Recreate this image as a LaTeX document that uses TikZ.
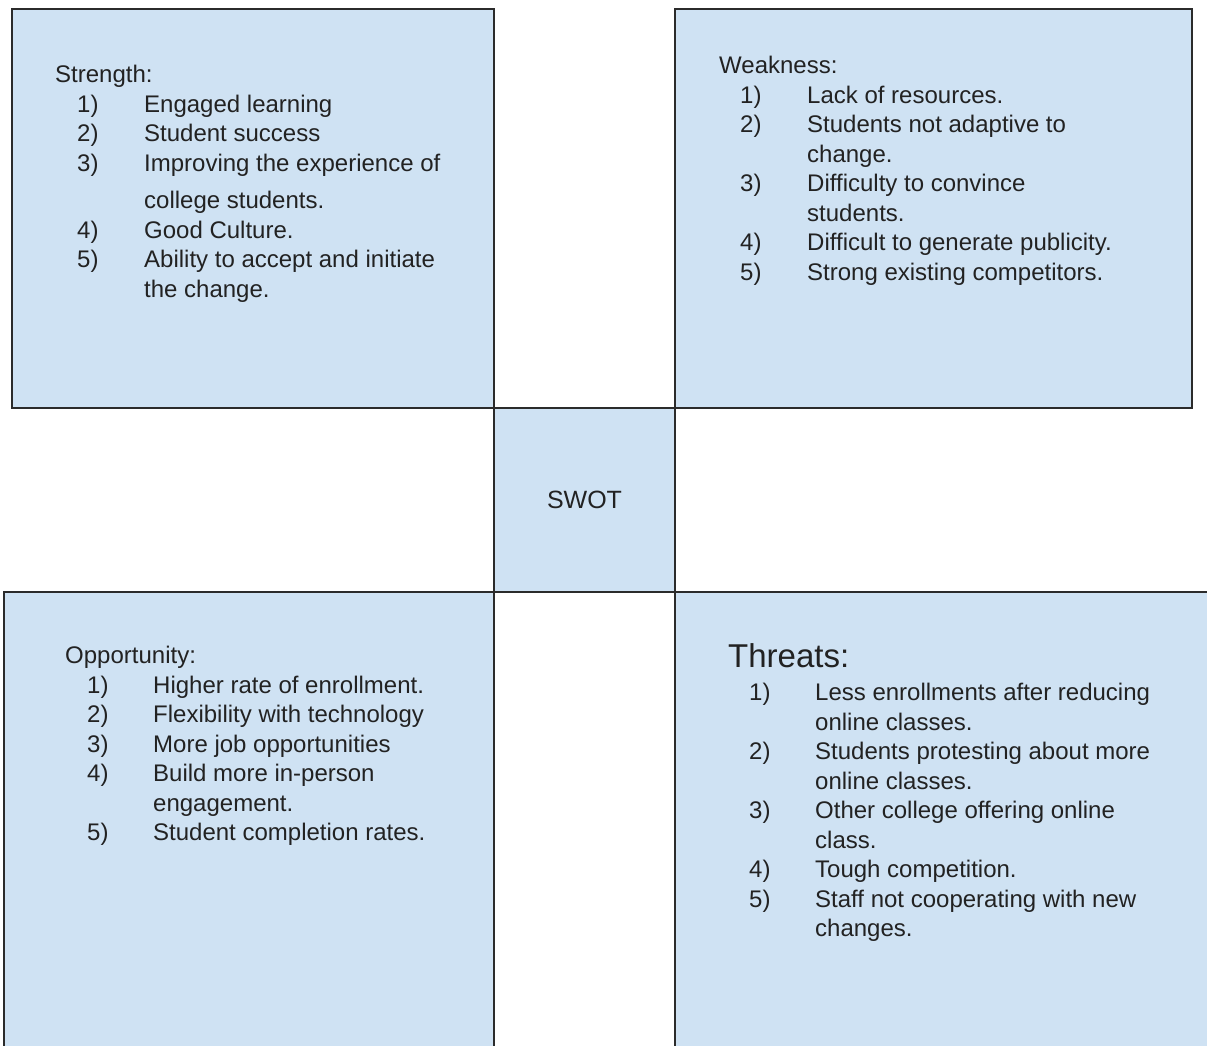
\documentclass[tikz,border=0pt]{standalone}
\usepackage{fontspec}
\setmainfont{Liberation Sans}
\usepackage{array}
\usetikzlibrary{positioning}
\definecolor{swotblue}{HTML}{CFE2F3}
\definecolor{swotline}{HTML}{2B2B2B}
\definecolor{swotink}{HTML}{222222}
\newcommand{\swotfont}{\fontsize{24}{29.5}\selectfont}
\newcommand{\swothead}{\fontsize{33}{38}\selectfont}
\tikzset{
    swotbox/.style={
        draw=swotline, line width=1.6pt, fill=swotblue,
        inner sep=0pt, outer sep=0pt},
    swotcore/.style={
        swotbox, minimum width=181pt, minimum height=184pt,
        font=\fontsize{25}{30}\selectfont, text=swotink},
    swottext/.style={
        inner sep=0pt, anchor=north west, align=left,
        font=\swotfont, text=swotink},
}

\begin{document}
\begin{tikzpicture}[x=1pt, y=1pt]

    \useasboundingbox (0,0) rectangle (1207,1045);
    \clip (0,0) rectangle (1207,1045);

    % --- Quadrants ---------------------------------------------------------------
    \node[swotbox, minimum width=181pt, minimum height=184pt] (mid) at (584.5,545) {};
    \node[swotbox, minimum width=482pt, minimum height=399pt,
        above left=0pt and 0pt of mid] (str) {};
    \node[swotbox, minimum width=517pt, minimum height=399pt,
        above right=0pt and 0pt of mid] (weak) {};
    \node[swotbox, minimum width=490pt, minimum height=463pt,
        below left=0pt and 0pt of mid] (opp) {};
    \node[swotbox, minimum width=540pt, minimum height=463pt,
        below right=0pt and 0pt of mid] (thr) {};

    % --- Centre -----------------------------------------------------------------
    \node[swotcore] (swot) at (mid) {SWOT};

    % --- Strength ---------------------------------------------------------------
    \node[swottext, below right=53pt and 43pt of str.north west] (strtext) {%
        \begin{tabular}{@{\hspace{22pt}}p{67pt}@{}l@{}}
        \multicolumn{2}{@{}l@{}}{Strength:}\\
        1) & Engaged learning\\
        2) & Student success\\
        3) & Improving the experience of\\[8pt]
           & college students.\\
        4) & Good Culture.\\
        5) & Ability to accept and initiate\\
           & the change.
        \end{tabular}};

    % --- Weakness ---------------------------------------------------------------
    \node[swottext, below right=44pt and 44pt of weak.north west] (weaktext) {%
        \begin{tabular}{@{\hspace{21pt}}p{67pt}@{}l@{}}
        \multicolumn{2}{@{}l@{}}{Weakness:}\\
        1) & Lack of resources.\\
        2) & Students not adaptive to\\
           & change.\\
        3) & Difficulty to convince\\
           & students.\\
        4) & Difficult to generate publicity.\\
        5) & Strong existing competitors.
        \end{tabular}};

    % --- Opportunity ------------------------------------------------------------
    \node[swottext, below right=51pt and 61pt of opp.north west] (opptext) {%
        \begin{tabular}{@{\hspace{22pt}}p{66pt}@{}l@{}}
        \multicolumn{2}{@{}l@{}}{Opportunity:}\\
        1) & Higher rate of enrollment.\\
        2) & Flexibility with technology\\
        3) & More job opportunities\\
        4) & Build more in-person\\
           & engagement.\\
        5) & Student completion rates.
        \end{tabular}};

    % --- Threats ----------------------------------------------------------------
    \node[swottext, below right=51pt and 53pt of thr.north west] (thrtext) {%
        \begin{tabular}{@{\hspace{21pt}}p{66pt}@{}l@{}}
        \multicolumn{2}{@{}l@{}}{\swothead Threats:}\\[4pt]
        1) & Less enrollments after reducing\\
           & online classes.\\
        2) & Students protesting about more\\
           & online classes.\\
        3) & Other college offering online\\
           & class.\\
        4) & Tough competition.\\
        5) & Staff not cooperating with new\\
           & changes.
        \end{tabular}};

\end{tikzpicture}
\end{document}
